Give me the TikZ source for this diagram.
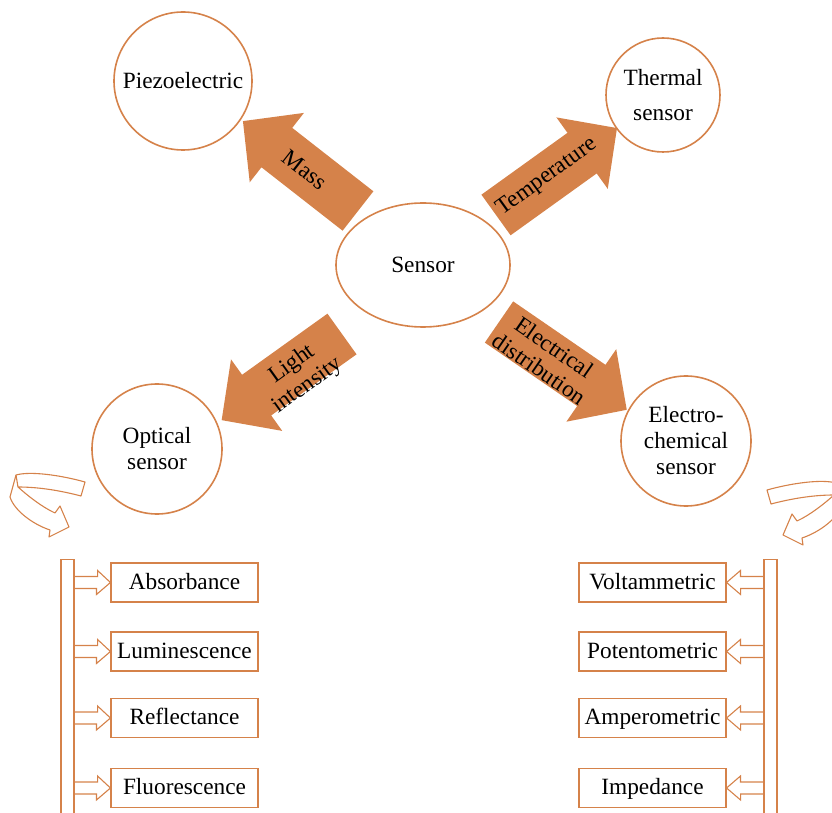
\documentclass[tikz,border=0pt]{standalone}
\usepackage{fontspec}
\setmainfont{Liberation Serif}
\usepackage{xcolor}
\usepackage{tikz}
\usetikzlibrary{shapes.geometric}
\definecolor{sensororange}{RGB}{213,130,74}
\tikzset{
  circ/.style={draw=sensororange, line width=1.6pt, circle, align=center, inner sep=1pt},
  bigarrow/.style={fill=sensororange},
  method/.style={draw=sensororange, line width=1.1pt, minimum width=147pt, minimum height=39pt, inner sep=0pt, text height=17pt, text depth=4pt},
  bar/.style={draw=sensororange, line width=1.1pt, minimum width=13pt, minimum height=262pt, anchor=north, inner sep=0pt},
  hollow/.style={draw=sensororange, line width=1.1pt},
  curl/.style={draw=sensororange, line width=1.1pt, line join=round}
}
\begin{document}
\begin{tikzpicture}[x=1pt, y=1pt, font=\fontsize{23.3}{26}\selectfont]
\useasboundingbox (0,0) rectangle (832,812);
\foreach \x/\y/\a/\l in {358/601/142/146, 496/597/35.7/149, 342/478/215.6/148, 499/490/-34.5/155}
  \fill[bigarrow, shift={(\x,\y)}, rotate=\a] (0,-25) -- (\l-43,-25) -- (\l-43,-44) -- (\l,0) -- (\l-43,44) -- (\l-43,25) -- (0,25) -- cycle;
\node[rotate=-38] (masslbl) at (305,642) {Mass};
\node[rotate=35.7] (templbl) at (547,635) {Temperature};
\node[rotate=35.6, align=center] (lightlbl) at (300,437) {Light\\intensity};
\node[rotate=-34.5, align=center] (eleclbl) at (547,454) {Electrical\\distribution};
\node[draw=sensororange, line width=1.6pt, ellipse, minimum width=174pt, minimum height=124pt] (sensor) at (423,547) {Sensor};
\node[circ, minimum size=138pt] (piezo) at (183,731) {Piezoelectric};
\node[circ, minimum size=114pt] (thermal) at (663,717) {Thermal\\[9pt]sensor};
\node[circ, minimum size=130pt] (optical) at (157,363) {Optical\\sensor};
\node[circ, minimum size=130pt] (electro) at (686,371) {Electro-\\chemical\\sensor};
\draw[curl] (85,330) .. controls (60,337) and (30,341) .. (16,337) -- (10,315) .. controls (14,302) and (32,288) .. (50,282) -- (49,275) -- (69,285) -- (60,306) -- (55,299) .. controls (42,305) and (28,316) .. (18,325) .. controls (40,325) and (62,321) .. (81,316) -- cycle;
\draw[curl] (16,337) -- (18,325);
\begin{scope}[shift={(852,-8)}, xscale=-1]
\draw[curl] (85,330) .. controls (60,337) and (30,341) .. (16,337) -- (10,315) .. controls (14,302) and (32,288) .. (50,282) -- (49,275) -- (69,285) -- (60,306) -- (55,299) .. controls (42,305) and (28,316) .. (18,325) .. controls (40,325) and (62,321) .. (81,316) -- cycle;
\draw[curl] (16,337) -- (18,325);
\end{scope}
\node[bar] (lbar) at (67.5,253) {};
\node[bar] (rbar) at (770.5,253) {};
\node[method] (absorb) at (184.5,229.5) {Absorbance};
\node[method] (lumin) at (184.5,160.5) {Luminescence};
\node[method] (reflect) at (184.5,94) {Reflectance};
\node[method] (fluor) at (184.5,24) {Fluorescence};
\node[method] (volt) at (652.5,229.5) {Voltammetric};
\node[method] (poten) at (652.5,160.5) {Potentometric};
\node[method] (ampero) at (652.5,94) {Amperometric};
\node[method] (imped) at (652.5,24) {Impedance};
\foreach \b in {absorb,lumin,reflect,fluor}
  \draw[hollow] (lbar.east |- \b.west) ++(0,6) -- ++(23,0) -- ++(0,6) -- (\b.west) -- ++(-14,-12) -- ++(0,6) -- ++(-23,0);
\foreach \b in {volt,poten,ampero,imped}
  \draw[hollow] (rbar.west |- \b.east) ++(0,6) -- ++(-23,0) -- ++(0,6) -- (\b.east) -- ++(14,-12) -- ++(0,6) -- ++(23,0);
\end{tikzpicture}
\end{document}
